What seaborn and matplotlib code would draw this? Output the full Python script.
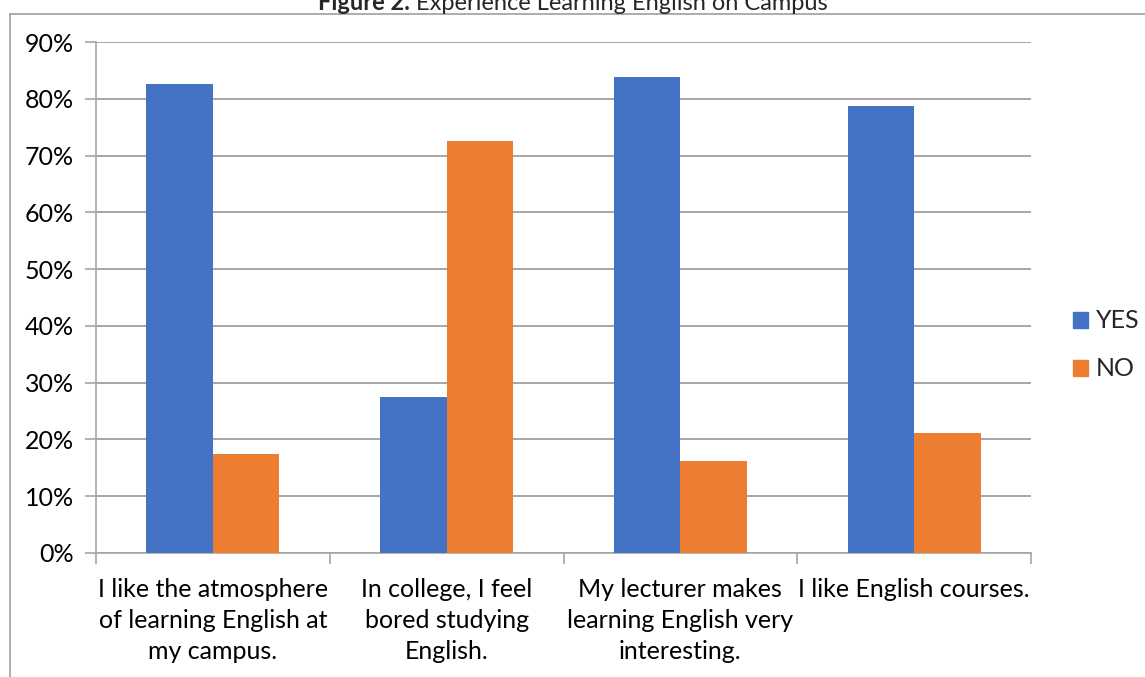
import matplotlib
matplotlib.use("Agg")
import matplotlib.pyplot as plt
from matplotlib.lines import Line2D
from matplotlib.ticker import FixedLocator, PercentFormatter
import seaborn as sns
import pandas as pd

# Survey data (share of respondents)
statements = [
    "I like the atmosphere\nof learning English at\nmy campus.",
    "In college, I feel\nbored studying\nEnglish.",
    "My lecturer makes\nlearning English very\ninteresting.",
    "I like English courses.",
]
yes_values = [82.6, 27.4, 83.8, 78.8]
no_values = [17.4, 72.6, 16.2, 21.2]
series_names = ["YES", "NO"]
series_colors = ["#4472C4", "#ED7D31"]
y_ticks = [0, 10, 20, 30, 40, 50, 60, 70, 80, 90]
title_bold = "Figure 2."
title_rest = "Experience Learning English on Campus"

df = pd.DataFrame({
    "statement": statements * 2,
    "answer": [series_names[0]] * len(statements) + [series_names[1]] * len(statements),
    "share": yes_values + no_values,
})

sns.set_style("white")
FONT = ["Lato", "DejaVu Sans"]
plt.rcParams["font.family"] = FONT

W, H = 1145, 677
fig = plt.figure(figsize=(W / 100, H / 100), dpi=100)
ax = fig.add_axes([96 / W, (H - 553) / H, (1031 - 96) / W, (553 - 42) / H])

sns.barplot(
    data=df, x="statement", y="share", hue="answer",
    hue_order=series_names, palette=series_colors,
    order=statements, width=0.57, saturation=1, ax=ax,
    linewidth=0, errorbar=None, zorder=3,
)

grid_color = "#a6a6a6"
ax.set_ylim(0, 90)
ax.set_xlim(-0.5, len(statements) - 0.5)
ax.yaxis.set_major_locator(FixedLocator(y_ticks))
ax.yaxis.set_major_formatter(PercentFormatter(decimals=0))
ax.grid(axis="y", color=grid_color, linewidth=1.4, zorder=0)
ax.set_axisbelow(True)

for side in ["top", "right"]:
    ax.spines[side].set_visible(False)
for side in ["left", "bottom"]:
    ax.spines[side].set_color(grid_color)
    ax.spines[side].set_linewidth(1.2)

ax.tick_params(axis="y", which="major", direction="out", length=8,
               color=grid_color, width=1.2, labelsize=18, pad=8,
               labelcolor="#000000", left=True)
ax.tick_params(axis="x", which="major", length=0, labelsize=18, pad=18,
               labelcolor="#000000")
ax.set_xticks(range(len(statements)))
ax.set_xticklabels(statements, linespacing=1.42)
ax.xaxis.set_minor_locator(FixedLocator([i - 0.5 for i in range(len(statements) + 1)]))
ax.tick_params(axis="x", which="minor", direction="out", length=8,
               color=grid_color, width=1.2, bottom=True)
ax.set_xlabel("")
ax.set_ylabel("")

handles = [plt.Rectangle((0, 0), 1, 1, color=c) for c in series_colors]
ax.legend(handles, series_names, loc="center left",
          bbox_to_anchor=(1073 / W, (H - 345) / H), bbox_transform=fig.transFigure,
          frameon=False, fontsize=18, handlelength=0.6, handleheight=0.6,
          handletextpad=0.3, labelspacing=1.0, borderpad=0, borderaxespad=0)

# Chart frame
border = "#a0a0a0"
fig.add_artist(Line2D([10 / W, 10 / W], [0, (H - 14) / H], color=border, lw=1.2,
                      transform=fig.transFigure))
fig.add_artist(Line2D([10 / W, 1], [(H - 14) / H, (H - 14) / H], color=border, lw=1.2,
                      transform=fig.transFigure))

# Heading: bold figure number followed by regular caption, centred as one line
title_size = 17
gap_px = 6
baseline = 1 - 10 / H
t_bold = fig.text(0, baseline, title_bold, ha="left", va="baseline",
                  fontsize=title_size, fontweight="bold")
t_rest = fig.text(0, baseline, title_rest, ha="left", va="baseline",
                  fontsize=title_size)
renderer = fig.canvas.get_renderer()
w_bold = t_bold.get_window_extent(renderer).width
w_rest = t_rest.get_window_extent(renderer).width
start = 573 - (w_bold + gap_px + w_rest) / 2
t_bold.set_x(start / W)
t_rest.set_x((start + w_bold + gap_px) / W)

fig.savefig("out.png", dpi=100)
